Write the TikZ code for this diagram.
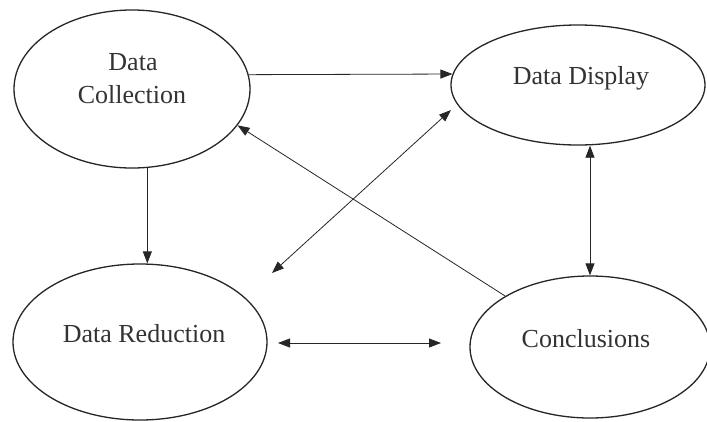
\documentclass[tikz,border=0pt]{standalone}
\usepackage{fontspec}
\setmainfont{Liberation Serif}
\usetikzlibrary{shapes.geometric,arrows.meta}
\begin{document}
\begin{tikzpicture}[x=1pt,y=-1pt,
  ell/.style={draw=black!85,line width=1.3pt,ellipse,inner sep=0pt},
  lbl/.style={anchor=base,inner sep=0pt,text=black!80,font=\fontsize{26}{30}\selectfont},
  arr/.style={draw=black!85,line width=0.8pt,-{Triangle[length=12pt,width=9pt]}},
  darr/.style={draw=black!85,line width=0.8pt,{Triangle[length=12pt,width=9pt]}-{Triangle[length=12pt,width=9pt]}}]
\useasboundingbox[fill=white] (0,0) rectangle (707,421);
% ellipses
\node[ell,minimum width=236pt,minimum height=158pt] (dc) at (132,89) {};
\node[ell,minimum width=254pt,minimum height=120pt] (dd) at (578,85) {};
\node[ell,minimum width=254pt,minimum height=156pt] (dr) at (140,342) {};
\node[ell,minimum width=240pt,minimum height=142pt] (cc) at (590,347) {};
% labels
\node[lbl] (dct1) at (133,70) {Data};
\node[lbl] (dct2) at (132,103) {Collection};
\node[lbl] (ddt) at (581,84) {Data Display};
\node[lbl] (drt) at (144,342) {Data Reduction};
\node[lbl] (cct) at (586,347) {Conclusions};
% free ends
\coordinate (xa) at (272,273);
\coordinate (xb) at (451,110);
\coordinate (ha) at (278,343);
\coordinate (hb) at (441,343);
% connectors
\draw[arr] (dc.7.4) -- (dd.175);
\draw[arr] (dc.281.6) -- (dc.281.6 |- dr.north);
\draw[darr] (cc.north |- dd.south) -- (cc.north);
\draw[darr] (xa) -- (xb);
\draw[arr] (cc.149.9) -- (dc.341.6);
\draw[darr] (ha) -- (hb);
\end{tikzpicture}
\end{document}
